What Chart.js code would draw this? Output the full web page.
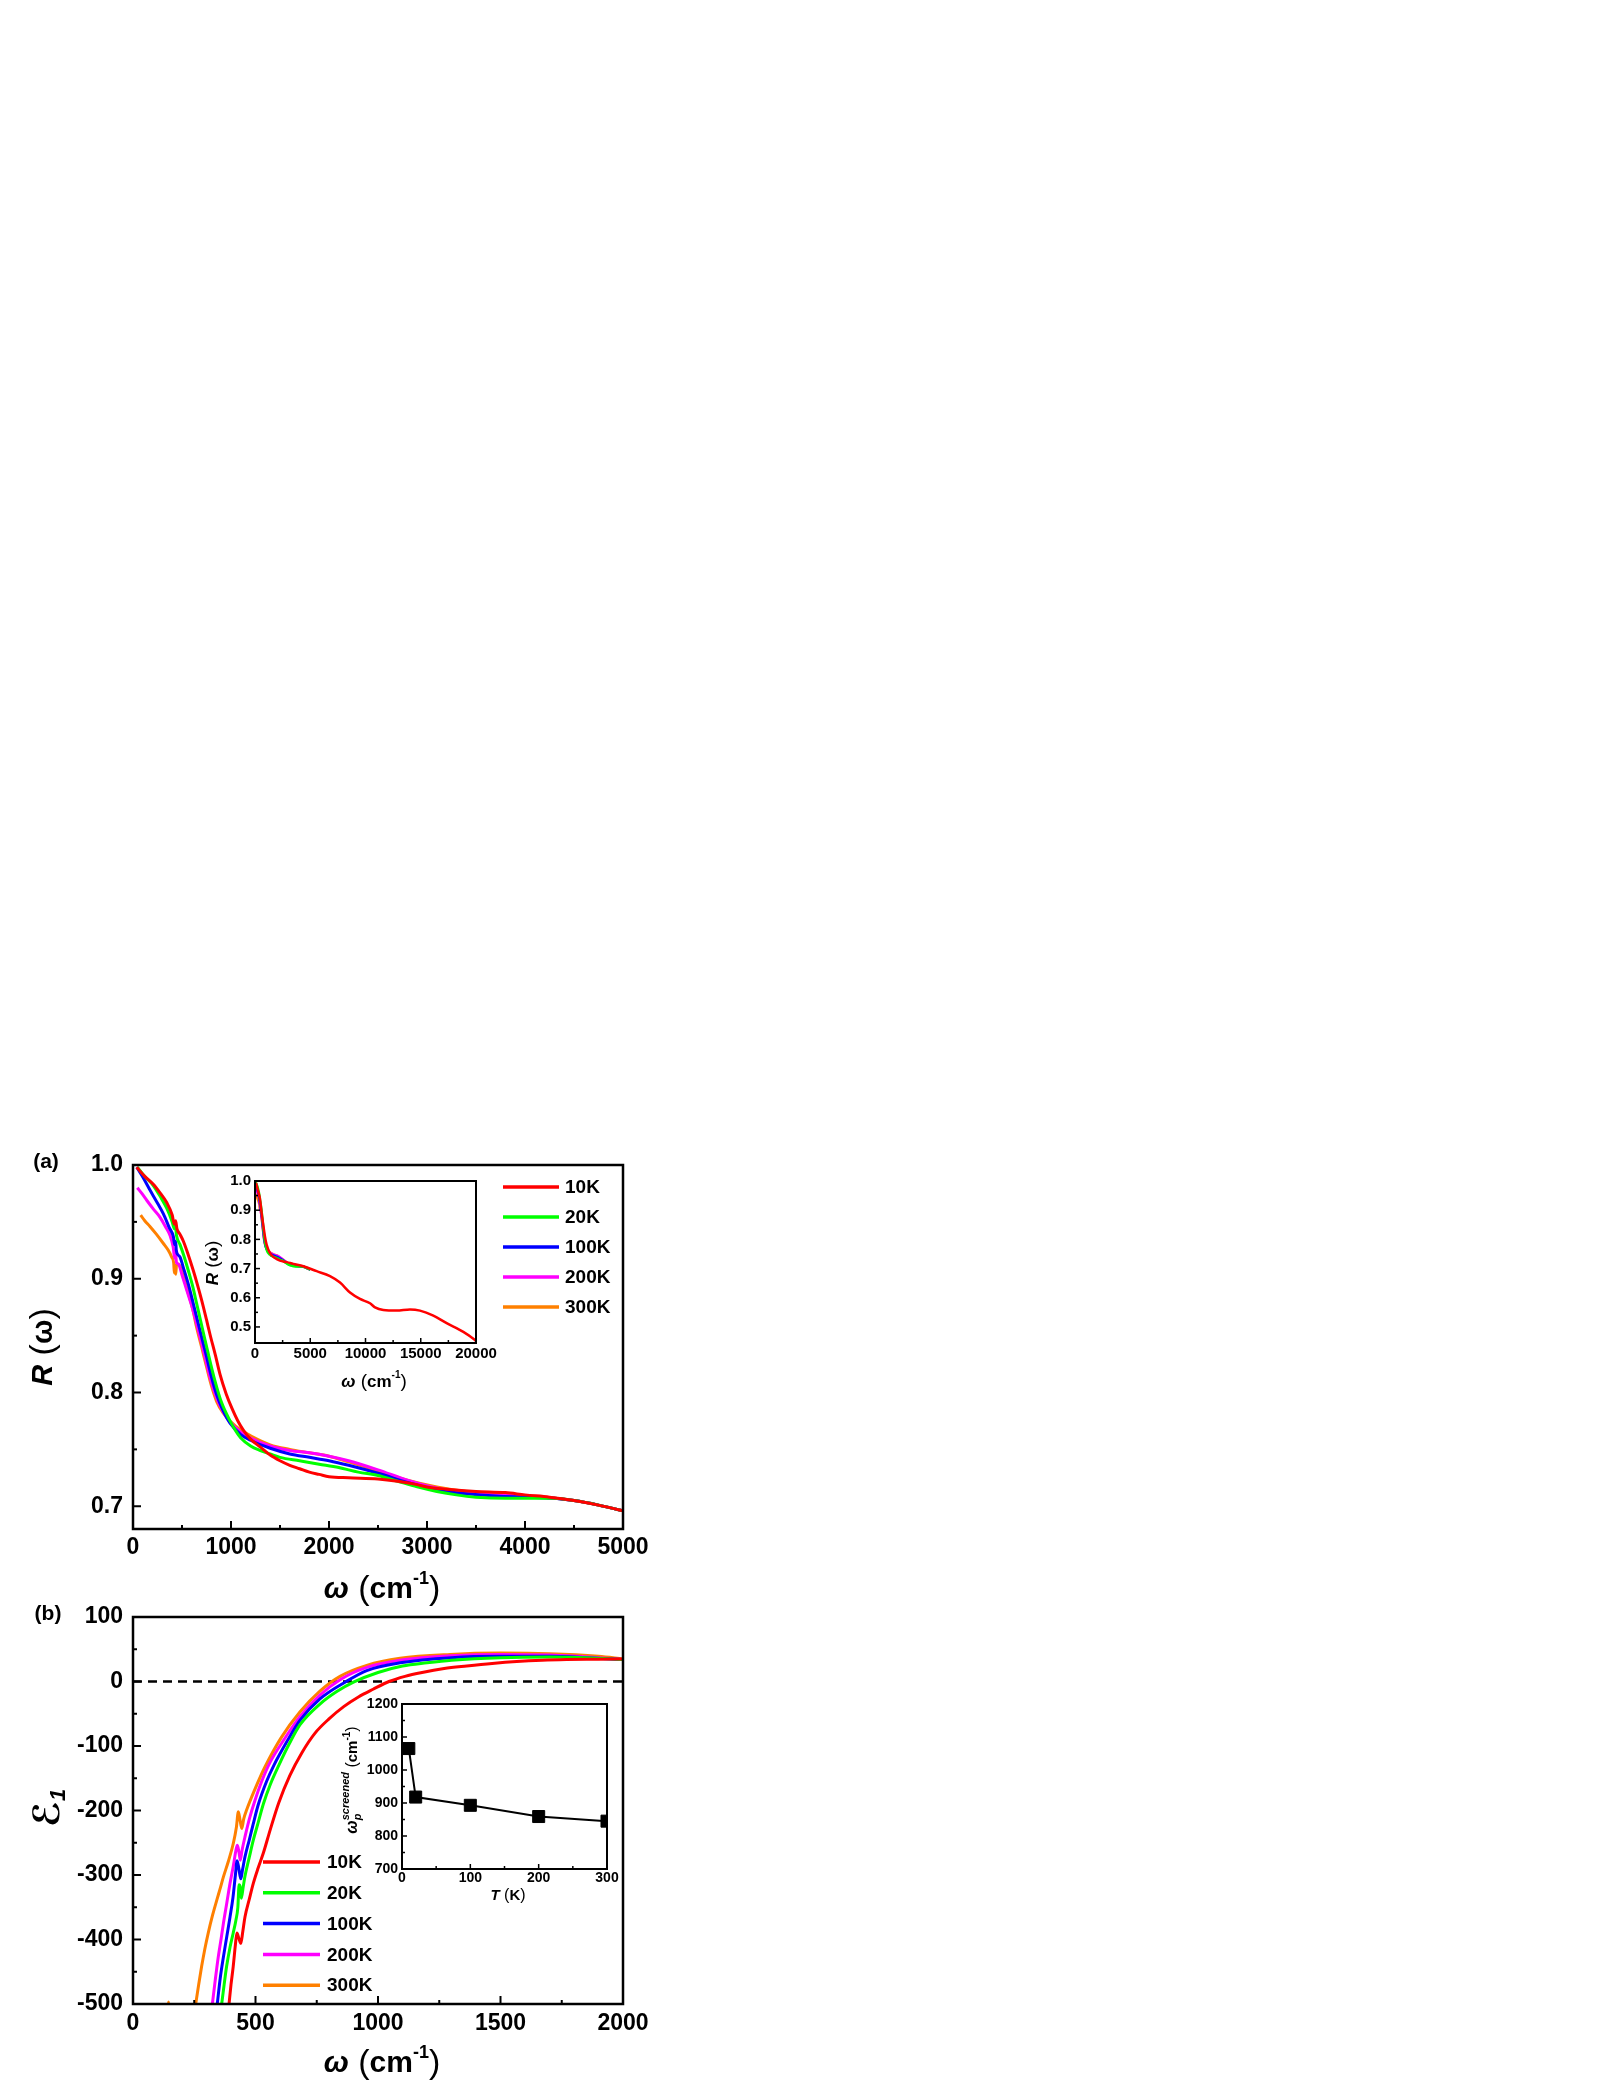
<!DOCTYPE html>
<html>
<head>
<meta charset="utf-8">
<script src="https://cdn.jsdelivr.net/npm/chart.js@4.4.0/dist/chart.umd.min.js"></script>
<style>
  body { margin: 0; background: #fff; }
  #page { position: relative; width: 1615px; height: 2090px; background: #fff; overflow: hidden; }
  canvas { position: absolute; }
</style>
</head>
<body>
<div id="page">
  <canvas id="ca" style="left:0px;top:1100px"></canvas>
  <canvas id="cai" style="left:160px;top:1160px"></canvas>
  <canvas id="cb" style="left:0px;top:1560px"></canvas>
  <canvas id="cbi" style="left:300px;top:1690px"></canvas>
</div>
<script>
// ---- data ----
const temps = ['10K', '20K', '100K', '200K', '300K'];
const lineColors = ['#ff0000', '#00ff00', '#0000ff', '#ff00ff', '#ff8000'];

// tick labels that are kept even when the axis starts off a round value
const reflTicks = [0.7, 0.8, 0.9, 1.0];
const reflInsetTicks = [0.5, 0.6, 0.7, 0.8, 0.9, 1.0];

// (a) reflectivity R(w), [omega cm-1, R]
const refl10K = [[38,0.998],[120,0.990],[207,0.983],[280,0.975],[344,0.967],[400,0.956],[422,0.948],[435,0.951],[448,0.944],[480,0.939],[514,0.933],[560,0.922],[616,0.907],[660,0.894],[701,0.881],[750,0.864],[786,0.851],[840,0.833],[888,0.816],[950,0.799],[1010,0.786],[1070,0.775],[1126,0.767],[1200,0.759],[1300,0.752],[1400,0.745],[1500,0.740],[1600,0.736],[1700,0.733],[1800,0.730],[1900,0.728],[2000,0.726],[2200,0.725],[2500,0.724],[2700,0.722],[2900,0.719],[3000,0.717],[3200,0.715],[3500,0.713],[3800,0.712],[4000,0.710],[4250,0.708],[4500,0.705],[4750,0.701],[5000,0.696]];
const refl20K = [[45,0.998],[120,0.990],[207,0.982],[280,0.972],[344,0.962],[400,0.950],[422,0.944],[432,0.947],[444,0.938],[480,0.930],[520,0.920],[565,0.907],[610,0.893],[650,0.878],[690,0.863],[735,0.846],[790,0.826],[837,0.810],[900,0.792],[990,0.775],[1050,0.766],[1100,0.760],[1200,0.753],[1300,0.749],[1400,0.746],[1500,0.743],[1700,0.740],[1900,0.737],[2100,0.734],[2300,0.730],[2500,0.727],[2700,0.722],[2900,0.717],[3100,0.713],[3300,0.710],[3500,0.708],[3800,0.707],[4100,0.707],[4300,0.707],[4500,0.705],[4750,0.701],[5000,0.696]];
const refl100K = [[38,0.998],[110,0.988],[173,0.978],[240,0.968],[310,0.957],[370,0.945],[412,0.937],[425,0.930],[435,0.933],[442,0.925],[460,0.921],[480,0.919],[520,0.908],[565,0.895],[610,0.880],[650,0.866],[700,0.849],[752,0.831],[800,0.814],[854,0.798],[920,0.784],[990,0.773],[1100,0.763],[1200,0.758],[1400,0.751],[1600,0.746],[1800,0.743],[2000,0.740],[2200,0.736],[2500,0.729],[2800,0.721],[3100,0.714],[3400,0.711],[3700,0.709],[4000,0.708],[4300,0.707],[4500,0.705],[4750,0.701],[5000,0.696]];
const refl200K = [[44,0.980],[90,0.975],[140,0.969],[210,0.961],[276,0.954],[330,0.946],[378,0.938],[410,0.928],[425,0.918],[432,0.924],[445,0.914],[463,0.913],[505,0.902],[548,0.890],[600,0.876],[650,0.860],[700,0.843],[752,0.825],[800,0.809],[854,0.795],[920,0.783],[990,0.774],[1100,0.765],[1200,0.760],[1400,0.753],[1600,0.749],[1800,0.747],[2000,0.744],[2200,0.740],[2500,0.732],[2800,0.723],[3100,0.716],[3400,0.712],[3700,0.710],[4000,0.709],[4300,0.707],[4500,0.705],[4750,0.701],[5000,0.696]];
const refl300K = [[78,0.956],[120,0.951],[173,0.946],[240,0.939],[310,0.931],[360,0.925],[395,0.919],[415,0.914],[422,0.905],[428,0.912],[436,0.904],[445,0.913],[480,0.911],[520,0.900],[565,0.887],[610,0.873],[650,0.857],[700,0.840],[752,0.822],[800,0.806],[854,0.792],[920,0.782],[990,0.775],[1100,0.767],[1200,0.762],[1400,0.754],[1600,0.750],[1800,0.747],[2000,0.744],[2200,0.739],[2500,0.731],[2800,0.723],[3100,0.717],[3400,0.713],[3700,0.711],[4000,0.709],[4300,0.707],[4500,0.705],[4750,0.701],[5000,0.696]];
// (a) inset, 10K over the wide range
const refl10KWide = [[90,0.994],[250,0.970],[452,0.938],[600,0.890],[754,0.848],[900,0.810],[1056,0.781],[1357,0.753],[1810,0.736],[2262,0.727],[2866,0.722],[3469,0.716],[4374,0.708],[5581,0.691],[6787,0.674],[7692,0.652],[8597,0.618],[9502,0.596],[10407,0.581],[10860,0.567],[11614,0.558],[12821,0.556],[14027,0.560],[14932,0.556],[16139,0.539],[17345,0.513],[18854,0.483],[19849,0.457],[20000,0.452]];

// (b) real part of dielectric function, [omega cm-1, eps1]
const eps10K = [[392,-500],[400,-470],[409,-442],[418,-408],[424,-390],[432,-398],[440,-406],[448,-388],[457,-365],[475,-337],[491,-313],[510,-290],[532,-266],[560,-230],[595,-188],[640,-146],[690,-110],[743,-80],[800,-58],[860,-39],[920,-24],[980,-12],[1045,0],[1110,8],[1180,14],[1270,20],[1362,24],[1466,28],[1566,31],[1670,33],[1770,34],[1900,34.5],[2000,35]];
const eps20K = [[362,-500],[372,-470],[382,-442],[396,-412],[409,-390],[420,-370],[428,-350],[433,-315],[437,-318],[442,-336],[450,-318],[457,-302],[475,-272],[491,-246],[510,-220],[532,-190],[560,-160],[595,-130],[640,-95],[682,-67],[763,-35],[830,-16],[900,-1],[1000,14],[1100,24],[1200,29],[1300,33],[1500,37],[1700,38],[1850,37],[2000,34]];
const eps100K = [[344,-500],[356,-460],[369,-427],[383,-395],[396,-365],[408,-335],[418,-300],[425,-278],[432,-290],[440,-306],[447,-292],[457,-272],[475,-245],[490,-222],[512,-190],[545,-155],[575,-130],[630,-92],[682,-60],[763,-27],[870,0],[954,17],[1090,29],[1300,37],[1500,39],[1700,39],[1850,37],[2000,34]];
const eps200K = [[324,-500],[336,-462],[348,-427],[360,-398],[369,-375],[383,-343],[396,-313],[410,-285],[420,-262],[426,-254],[433,-266],[438,-277],[445,-262],[457,-241],[475,-213],[498,-184],[525,-155],[560,-125],[620,-88],[682,-54],[763,-21],[850,4],[954,22],[1090,33],[1300,40],[1500,42],[1700,41],[1900,37],[2000,34]];
const eps300K = [[140,-515],[145,-497],[150,-515],[200,null],[256,-500],[268,-470],[280,-442],[293,-415],[307,-390],[325,-362],[342,-339],[355,-322],[369,-303],[389,-279],[410,-250],[422,-226],[430,-202],[437,-215],[444,-228],[452,-213],[464,-199],[500,-165],[538,-133],[605,-87],[682,-47],[763,-15],[845,8],[954,25],[1090,36],[1294,42],[1500,44],[1700,43],[1900,39],[2000,35]];
const zeroLine = [[0,0],[2000,0]];

// (b) inset: screened plasma frequency vs temperature
const tempK = [10, 20, 100, 200, 300];
const wpScreened = [1065, 918, 893, 859, 845];

// ---- helpers ----
const LS = '"Liberation Sans", Arial, sans-serif';
const pts = a => a.map(p => ({ x: p[0], y: p[1] }));

function rich(ctx, parts, cx, cy, rot) {
  ctx.save();
  ctx.translate(cx, cy);
  if (rot) ctx.rotate(rot);
  ctx.textBaseline = 'middle';
  ctx.textAlign = 'left';
  ctx.fillStyle = '#000';
  const ws = parts.map(p => { ctx.font = p.f; return ctx.measureText(p.t).width; });
  let total = 0;
  for (let i = 0; i < parts.length; i++) {
    if (parts[i].stack) { total += Math.max(ws[i], ws[i + 1]); i++; }
    else total += ws[i];
  }
  let x = -total / 2;
  for (let i = 0; i < parts.length; i++) {
    const p = parts[i];
    ctx.font = p.f;
    ctx.fillText(p.t, x, p.dy || 0);
    if (p.stack) {
      const q = parts[i + 1];
      ctx.font = q.f;
      ctx.fillText(q.t, x, q.dy || 0);
      x += Math.max(ws[i], ws[i + 1]);
      i++;
    } else x += ws[i];
  }
  ctx.restore();
}

// frame, inward ticks, titles and legend
const decoPlugin = {
  id: 'deco',
  afterDatasetsDraw(chart, args, o) {
    const ctx = chart.ctx, a = chart.chartArea;
    const offX = chart.canvas.offsetLeft, offY = chart.canvas.offsetTop;
    ctx.save();
    ctx.strokeStyle = '#000';
    ctx.lineWidth = o.tickW;
    ['x', 'y'].forEach(id => {
      const s = chart.scales[id];
      const vals = s.ticks.map(t => t.value);
      const minors = [];
      for (let i = 0; i < vals.length - 1; i++) minors.push((vals[i] + vals[i + 1]) / 2);
      const mark = (v, len) => {
        const p = s.getPixelForValue(v);
        ctx.beginPath();
        if (id === 'x') { ctx.moveTo(p, a.bottom); ctx.lineTo(p, a.bottom - len); }
        else { ctx.moveTo(a.left, p); ctx.lineTo(a.left + len, p); }
        ctx.stroke();
      };
      vals.forEach(v => mark(v, o.major));
      minors.forEach(v => mark(v, o.minor));
    });
    ctx.lineWidth = o.frameW;
    ctx.strokeRect(a.left, a.top, a.right - a.left, a.bottom - a.top);
    (o.texts || []).forEach(t => rich(ctx, t.parts, t.x - offX, t.y - offY, t.rot));
    if (o.legend) {
      const L = o.legend;
      for (let k = 0; k < L.n; k++) {
        const ds = chart.data.datasets[k];
        const y = L.y0 + k * L.dy - offY;
        ctx.strokeStyle = ds.borderColor;
        ctx.lineWidth = L.lw;
        ctx.beginPath();
        ctx.moveTo(L.x1 - offX, y);
        ctx.lineTo(L.x2 - offX, y);
        ctx.stroke();
        ctx.fillStyle = '#000';
        ctx.font = L.font;
        ctx.textAlign = 'left';
        ctx.textBaseline = 'middle';
        ctx.fillText(ds.label, L.tx - offX, y + 1);
      }
    }
    ctx.restore();
  }
};

const fixedTicks = list => s => { s.ticks = list.map(v => ({ value: v })); };
const plain = v => String(v);

function makeChart(id, w, h, pad, yw, xh, datasets, xopt, yopt, deco) {
  const cv = document.getElementById(id);
  cv.width = w;
  cv.height = h;
  const base = {
    type: 'linear',
    grid: { display: false, drawTicks: false },
    border: { display: false }
  };
  return new Chart(cv, {
    type: 'line',
    data: { datasets: datasets },
    options: {
      responsive: false,
      animation: false,
      devicePixelRatio: 1,
      layout: { padding: pad },
      plugins: { legend: { display: false }, tooltip: { enabled: false }, deco: deco },
      elements: { point: { radius: 0 }, line: { cubicInterpolationMode: 'monotone' } },
      scales: {
        x: Object.assign({}, base, { afterFit: s => { s.height = xh; } }, xopt),
        y: Object.assign({}, base, { afterFit: s => { s.width = yw; } }, yopt)
      }
    },
    plugins: [decoPlugin]
  });
}

const tickFont = size => ({ family: LS, size: size, weight: 'bold' });
const wTitle = (size, sup, dy, par) => [
  { t: 'ω', f: 'italic bold ' + size + 'px ' + LS },
  { t: ' (', f: par + 'px ' + LS },
  { t: 'cm', f: 'bold ' + size + 'px ' + LS },
  { t: '-1', f: 'bold ' + sup + 'px ' + LS, dy: dy },
  { t: ')', f: par + 'px ' + LS }
];

// ---- (a) main ----
const reflSets = [refl10K, refl20K, refl100K, refl200K, refl300K];
makeChart('ca', 700, 520, { left: 0, top: 65, right: 77, bottom: 0 }, 133, 91,
  reflSets.map((d, i) => ({ label: temps[i], data: pts(d), borderColor: lineColors[i], borderWidth: 3 })),
  { min: 0, max: 5000, ticks: { stepSize: 1000, padding: 5, font: tickFont(23), color: '#000', maxRotation: 0, autoSkip: false, callback: plain } },
  { min: 0.68, max: 1.0, afterBuildTicks: fixedTicks(reflTicks),
    ticks: { padding: 10, font: tickFont(23), color: '#000', callback: v => v.toFixed(1) } },
  { frameW: 2.5, tickW: 2, major: 8, minor: 4,
    texts: [
      { x: 382, y: 1590, parts: wTitle(30, 18, -11, 34) },
      { x: 44, y: 1347, rot: -Math.PI / 2, parts: [
        { t: 'R', f: 'italic bold 29px ' + LS },
        { t: ' (', f: '34px ' + LS },
        { t: 'ω', f: 'bold 29px ' + LS },
        { t: ')', f: '34px ' + LS }] },
      { x: 46, y: 1162, parts: [{ t: '(a)', f: 'bold 21px ' + LS }] }
    ],
    legend: { n: 5, x1: 503, x2: 559, tx: 565, y0: 1187, dy: 30, lw: 3.5, font: 'bold 19px ' + LS } });

// ---- (a) inset ----
const insetSets = [refl10KWide, refl20K, refl100K, refl200K, refl300K];
makeChart('cai', 350, 250, { left: 0, top: 21, right: 34, bottom: 0 }, 95, 67,
  insetSets.map((d, i) => ({ label: temps[i], data: pts(d), borderColor: lineColors[i], borderWidth: 2.5 })),
  { min: 0, max: 20000, ticks: { stepSize: 5000, padding: 2, font: tickFont(15), color: '#000', maxRotation: 0, autoSkip: false, callback: plain } },
  { min: 0.445, max: 1.0, afterBuildTicks: fixedTicks(reflInsetTicks),
    ticks: { padding: 4, font: tickFont(15), color: '#000', callback: v => v.toFixed(1) } },
  { frameW: 2, tickW: 1.5, major: 5, minor: 3,
    texts: [
      { x: 374, y: 1382, parts: wTitle(17, 10, -7, 19) },
      { x: 213, y: 1263, rot: -Math.PI / 2, parts: [
        { t: 'R', f: 'italic bold 17px ' + LS },
        { t: ' (', f: '19px ' + LS },
        { t: 'ω', f: 'bold 17px ' + LS },
        { t: ')', f: '19px ' + LS }] }
    ] });

// ---- (b) main ----
const epsSets = [eps10K, eps20K, eps100K, eps200K, eps300K];
const bSets = epsSets.map((d, i) => ({ label: temps[i], data: pts(d), borderColor: lineColors[i], borderWidth: 3 }));
bSets.push({ label: 'zero', data: pts(zeroLine), borderColor: '#000', borderWidth: 2.5, borderDash: [9, 6] });
makeChart('cb', 700, 530, { left: 0, top: 57, right: 77, bottom: 0 }, 133, 86, bSets,
  { min: 0, max: 2000, ticks: { stepSize: 500, padding: 6, font: tickFont(23), color: '#000', maxRotation: 0, autoSkip: false, callback: plain } },
  { min: -500, max: 100, ticks: { stepSize: 100, padding: 10, font: tickFont(23), color: '#000', callback: plain } },
  { frameW: 2.5, tickW: 2, major: 8, minor: 4,
    texts: [
      { x: 382, y: 2064, parts: wTitle(30, 18, -11, 34) },
      { x: 50, y: 1808, rot: -Math.PI / 2, parts: [
        { t: 'ℰ', f: 'italic bold 36px "DejaVu Sans", sans-serif' },
        { t: '1', f: 'italic bold 22px ' + LS, dy: 9 }] },
      { x: 48, y: 1614, parts: [{ t: '(b)', f: 'bold 21px ' + LS }] }
    ],
    legend: { n: 5, x1: 263, x2: 320, tx: 327, y0: 1862, dy: 30.8, lw: 3.5, font: 'bold 19px ' + LS } });

// ---- (b) inset ----
makeChart('cbi', 330, 230, { left: 0, top: 14, right: 23, bottom: 0 }, 102, 51,
  [{ label: 'wp', data: tempK.map((t, i) => ({ x: t, y: wpScreened[i] })), borderColor: '#000', borderWidth: 2,
     cubicInterpolationMode: 'default', tension: 0,
     pointStyle: 'rect', pointRadius: 8.5, pointBackgroundColor: '#000', pointBorderColor: '#000', pointBorderWidth: 1 }],
  { min: 0, max: 300, ticks: { stepSize: 100, padding: 1, font: tickFont(14), color: '#000', maxRotation: 0, autoSkip: false, callback: plain } },
  { min: 700, max: 1200, ticks: { stepSize: 100, padding: 4, font: tickFont(14), color: '#000', callback: plain } },
  { frameW: 2, tickW: 1.5, major: 5, minor: 3,
    texts: [
      { x: 508, y: 1896, parts: [
        { t: 'T', f: 'italic bold 15px ' + LS },
        { t: ' (', f: '16px ' + LS },
        { t: 'K', f: 'bold 15px ' + LS },
        { t: ')', f: '16px ' + LS }] },
      { x: 353, y: 1780, rot: -Math.PI / 2, parts: [
        { t: 'ω', f: 'italic bold 16px ' + LS },
        { t: 'p', f: 'italic bold 11px ' + LS, dy: 5, stack: true },
        { t: 'screened', f: 'italic bold 11px ' + LS, dy: -7 },
        { t: ' (', f: '16px ' + LS },
        { t: 'cm', f: 'bold 15px ' + LS },
        { t: '-1', f: 'bold 10px ' + LS, dy: -6 },
        { t: ')', f: '16px ' + LS }] }
    ] });
</script>
</body>
</html>
